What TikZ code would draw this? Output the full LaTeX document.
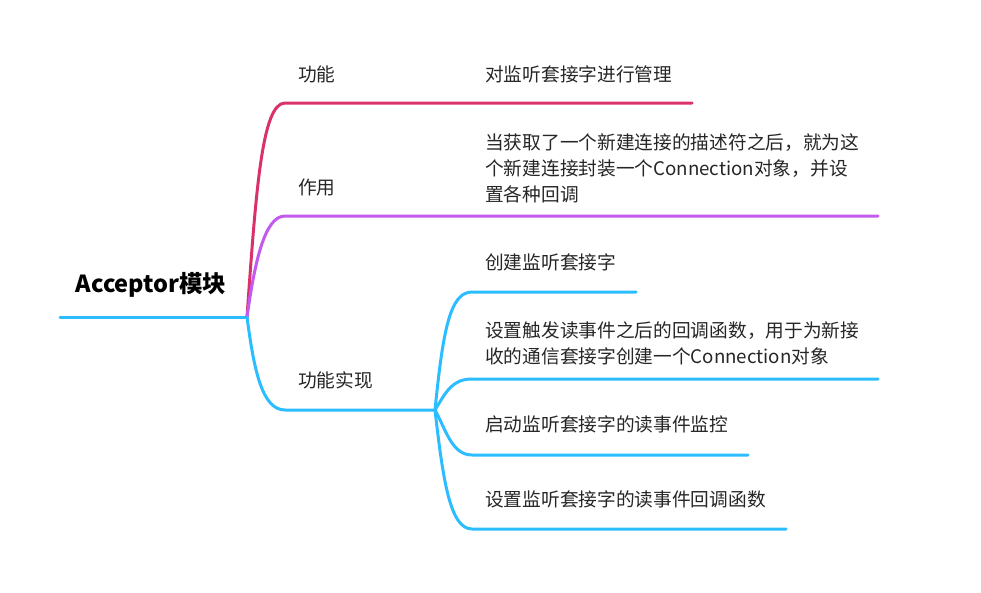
\documentclass[tikz,border=0pt]{standalone}
\usepackage{fontspec}
\setmainfont{Noto Sans CJK SC}
\definecolor{cred}{HTML}{D9326B}
\definecolor{cpurple}{HTML}{C25AF0}
\definecolor{ccyan}{HTML}{2BBDFF}
\begin{document}
\begin{tikzpicture}[x=1pt,y=-1pt,
  branch/.style={line width=3pt,line cap=round,line join=round},
  lbl/.style={anchor=west,inner sep=0pt,font=\fontsize{18.7}{26}\selectfont,text=black!85,align=left},
  rootlbl/.style={anchor=center,inner sep=0pt,font=\fontsize{23.5}{26}\selectfont\bfseries}]
\useasboundingbox (0,0) rectangle (981,592);
% coordinates
\coordinate (r0) at (60,317);
\coordinate (hub) at (247,317);
\coordinate (b1) at (285,103);
\coordinate (b1e) at (692,103);
\coordinate (b2) at (285,216);
\coordinate (b2e) at (878,216);
\coordinate (b3) at (285,410);
\coordinate (hub2) at (435,410);
\coordinate (s1) at (472,292);
\coordinate (s1e) at (636,292);
\coordinate (s2) at (472,379);
\coordinate (s2e) at (878,379);
\coordinate (s3) at (472,455);
\coordinate (s3e) at (748,455);
\coordinate (s4) at (472,529);
\coordinate (s4e) at (786,529);
% lines
\draw[branch,ccyan] (r0) -- (hub);
\draw[branch,cred] (hub) .. controls (256,190) and (262,103) .. (b1) -- (b1e);
\draw[branch,cpurple] (hub) .. controls (255,260) and (265,216) .. (b2) -- (b2e);
\draw[branch,ccyan] (hub) .. controls (254,370) and (262,410) .. (b3) -- (hub2);
\draw[branch,ccyan] (hub2) .. controls (443,330) and (450,292) .. (s1) -- (s1e);
\draw[branch,ccyan] (hub2) .. controls (446,392) and (452,379) .. (s2) -- (s2e);
\draw[branch,ccyan] (hub2) .. controls (446,430) and (452,455) .. (s3) -- (s3e);
\draw[branch,ccyan] (hub2) .. controls (443,480) and (450,529) .. (s4) -- (s4e);
% labels
\node[rootlbl] (root) at (151,285) {Acceptor模块};
\node[lbl] (n1) at (298,74) {功能};
\node[lbl] (n1t) at (485,74) {对监听套接字进行管理};
\node[lbl] (n2) at (298,187) {作用};
\node[lbl] (n2t) at (485,168) {当获取了一个新建连接的描述符之后，就为这\\个新建连接封装一个Connection对象，并设\\置各种回调};
\node[lbl] (n3) at (298,380) {功能实现};
\node[lbl] (m1) at (485,262) {创建监听套接字};
\node[lbl] (m2) at (485,343) {设置触发读事件之后的回调函数，用于为新接\\收的通信套接字创建一个Connection对象};
\node[lbl] (m3) at (485,424) {启动监听套接字的读事件监控};
\node[lbl] (m4) at (485,499) {设置监听套接字的读事件回调函数};
\end{tikzpicture}
\end{document}
